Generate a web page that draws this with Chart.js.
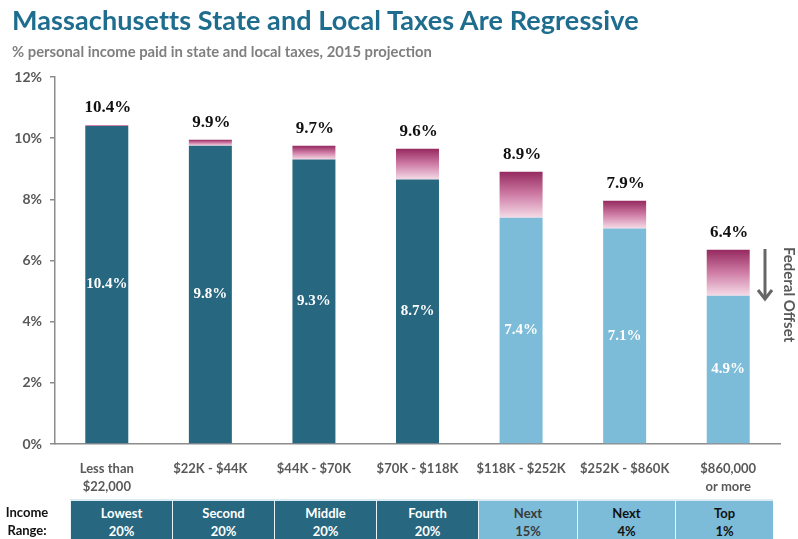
<!DOCTYPE html>
<html>
<head>
<meta charset="utf-8">
<script src="https://cdn.jsdelivr.net/npm/chart.js@4.4.1/dist/chart.umd.min.js"></script>
<style>
  html, body { margin: 0; padding: 0; background: #fff; }
  #wrap { position: relative; width: 798px; height: 539px; overflow: hidden; font-family: Lato, "Open Sans", sans-serif; }
  #c { position: absolute; left: 0; top: 0; }
  #title { position: absolute; left: 12px; top: 3px; font-size: 27px; font-weight: 700; color: #1E6C8E; white-space: nowrap; letter-spacing: 0.1px; }
  #subtitle { position: absolute; left: 12px; top: 42px; font-size: 14.8px; font-weight: 700; color: #7F7F7F; white-space: nowrap; }
  #fedText { position: absolute; left: 781px; top: 247px; writing-mode: vertical-rl; font-size: 15px; font-weight: 700; color: #595959; white-space: nowrap; }
  #arrow { position: absolute; left: 755px; top: 246px; }
  #rangeLabel { position: absolute; left: 0px; top: 503px; width: 54px; text-align: center; font-size: 13px; font-weight: 700; color: #111; line-height: 18px; }
  .cell { position: absolute; top: 499px; height: 42px; box-sizing: border-box; border-left: 1px solid #e8f2f7; border-top: 2px solid #dcebf2; text-align: center; font-size: 13px; font-weight: 700; line-height: 18px; padding-top: 3px; }
</style>
</head>
<body>
<div id="wrap">
  <canvas id="c" width="798" height="539"></canvas>
  <div id="title">Massachusetts State and Local Taxes Are Regressive</div>
  <div id="subtitle">% personal income paid in state and local taxes, 2015 projection</div>
  <svg id="arrow" width="22" height="60">
    <line x1="10" y1="3" x2="10" y2="52" stroke="#666" stroke-width="3"/>
    <polyline points="3,44 10,53 17,44" fill="none" stroke="#666" stroke-width="3"/>
  </svg>
  <div id="fedText">Federal Offset</div>
  <div id="rangeLabel">Income<br>Range:</div>
</div>
<script>
// ---- data ----
const categories = [["Less than", "$22,000"], "$22K - $44K", "$44K - $70K", "$70K - $118K", "$118K - $252K", "$252K - $860K", ["$860,000", "or more"]];
const afterFederalOffset = [10.4, 9.75, 9.3, 8.65, 7.4, 7.05, 4.85];
const federalOffset = [0.03, 0.2, 0.45, 1.0, 1.5, 0.9, 1.5];
const totalLabels = ["10.4%", "9.9%", "9.7%", "9.6%", "8.9%", "7.9%", "6.4%"];
const afterOffsetLabels = ["10.4%", "9.8%", "9.3%", "8.7%", "7.4%", "7.1%", "4.9%"];
const yTickValues = [0, 2, 4, 6, 8, 10, 12];
const incomeGroups = [["Lowest", "20%"], ["Second", "20%"], ["Middle", "20%"], ["Fourth", "20%"], ["Next", "15%"], ["Next", "4%"], ["Top", "1%"]];
const topGroupStart = 4; // groups from this index are the top 20%

// ---- styles ----
const DARK = '#27677F';
const LIGHT = '#7DBCD8';

// table cells
const cellLeft = [70, 172, 274, 376, 478, 577, 675];
const cellWidth = [102, 102, 102, 102, 99, 98, 98];
const wrap = document.getElementById('wrap');
incomeGroups.forEach((g, i) => {
  const d = document.createElement('div');
  d.className = 'cell';
  d.style.left = cellLeft[i] + 'px';
  d.style.width = cellWidth[i] + 'px';
  const top = i >= topGroupStart;
  d.style.background = top ? LIGHT : DARK;
  d.style.color = top ? (i === 4 ? '#3a3a3a' : '#111') : '#fff';
  d.innerHTML = g[0] + '<br>' + g[1];
  wrap.appendChild(d);
});

function pinkGradient(ctx) {
  const chart = ctx.chart;
  if (!chart.chartArea || ctx.dataIndex === undefined) return '#c86a98';
  const i = ctx.dataIndex;
  const y = chart.scales.y;
  const top = y.getPixelForValue(afterFederalOffset[i] + federalOffset[i]);
  const bot = y.getPixelForValue(afterFederalOffset[i]);
  if (!isFinite(top) || !isFinite(bot) || bot - top < 0.5) return '#f2d3e2';
  const g = chart.ctx.createLinearGradient(0, top, 0, bot);
  g.addColorStop(0, '#962A60');
  g.addColorStop(0.5, '#CF7DA6');
  g.addColorStop(1, '#F5DBE7');
  return g;
}

const labelPlugin = {
  id: 'barLabels',
  afterDatasetsDraw(chart) {
    const ctx = chart.ctx;
    const m0 = chart.getDatasetMeta(0).data;
    const m1 = chart.getDatasetMeta(1).data;
    ctx.save();
    ctx.textAlign = 'center';
    ctx.textBaseline = 'middle';
    m0.forEach((bar, i) => {
      ctx.fillStyle = '#ffffff';
      ctx.font = 'bold 15px "Liberation Serif", "Times New Roman", serif';
      ctx.fillText(afterOffsetLabels[i], bar.x, (bar.y + bar.base) / 2);
      const tb = m1[i];
      ctx.fillStyle = '#111111';
      ctx.font = 'bold 17px "Liberation Serif", "Times New Roman", serif';
      ctx.fillText(totalLabels[i], tb.x + 1, tb.y - 17);
    });
    ctx.restore();
  }
};

new Chart(document.getElementById('c'), {
  type: 'bar',
  data: {
    labels: categories,
    datasets: [
      {
        label: 'After federal offset',
        data: afterFederalOffset,
        backgroundColor: afterFederalOffset.map((v, i) => i >= topGroupStart ? LIGHT : DARK),
        borderWidth: 0,
        categoryPercentage: 1,
        barPercentage: 0.415
      },
      {
        label: 'Federal offset',
        data: federalOffset,
        backgroundColor: pinkGradient,
        borderWidth: 0,
        categoryPercentage: 1,
        barPercentage: 0.415
      }
    ]
  },
  plugins: [labelPlugin],
  options: {
    responsive: false,
    animation: false,
    devicePixelRatio: 1,
    layout: { padding: { top: 77, right: 18, left: 0, bottom: 0 } },
    plugins: { legend: { display: false }, tooltip: { enabled: false }, title: { display: false } },
    scales: {
      x: {
        stacked: true,
        grid: { display: false },
        border: { display: true, color: '#8C8C8C', width: 1.5 },
        ticks: {
          color: '#595959',
          font: { family: 'Lato', size: 13, weight: 'bold', lineHeight: 1.4 },
          padding: 8,
          maxRotation: 0,
          autoSkip: false
        },
        afterFit(scale) { scale.height = 95; }
      },
      y: {
        stacked: true,
        min: 0,
        max: 12,
        afterBuildTicks(scale) { scale.ticks = yTickValues.map(v => ({ value: v })); },
        grid: { display: true, drawOnChartArea: false, drawTicks: true, tickLength: 5, color: '#8C8C8C', lineWidth: 1.5 },
        border: { display: true, color: '#8C8C8C', width: 1.5 },
        ticks: {
          color: '#595959',
          font: { family: 'Lato', size: 14, weight: 'bold' },
          padding: 8,
          callback: v => v + '%'
        },
        afterFit(scale) { scale.width = 55; }
      }
    }
  }
});
</script>
</body>
</html>
